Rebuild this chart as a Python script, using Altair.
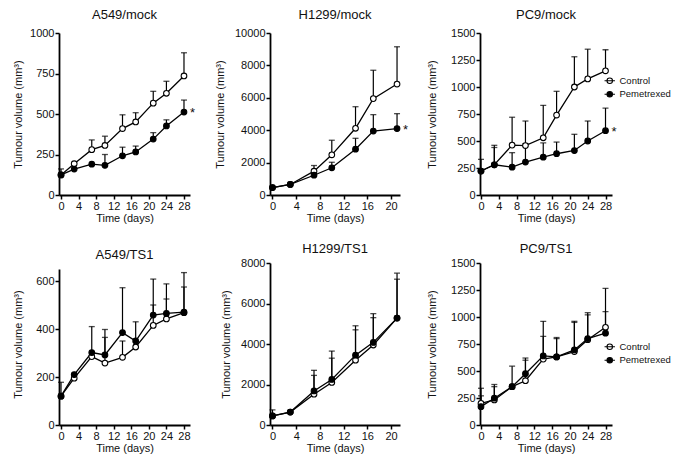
import altair as alt
import pandas as pd

FONT = "Liberation Sans"

days_28 = [0, 3, 7, 10, 14, 17, 21, 24, 28]
days_21 = [0, 3, 7, 10, 14, 17, 21]
ticks_28 = [0, 4, 8, 12, 16, 20, 24, 28]
ticks_20 = [0, 4, 8, 12, 16, 20]

series_names = ["Control", "Pemetrexed"]

# A549/mock
a549_mock_ctrl = [124, 193, 280, 306, 410, 451, 567, 628, 735]
a549_mock_ctrl_err = [161, None, 340, 363, 495, 508, 640, 702, 878]
a549_mock_pem = [124, 160, 190, 183, 242, 266, 345, 426, 512]
a549_mock_pem_err = [None, None, None, 250, 295, 302, 385, 464, 586]

# H1299/mock
h1299_mock_ctrl = [460, 650, 1470, 2480, 4120, 5950, 6850]
h1299_mock_ctrl_err = [None, None, 1820, 3380, 5450, 7700, 9150]
h1299_mock_pem = [460, 650, 1220, 1680, 2830, 3950, 4100]
h1299_mock_pem_err = [None, None, None, 2020, 3500, 4960, 5020]

# PC9/mock
pc9_mock_ctrl = [222, 280, 462, 458, 530, 740, 1000, 1075, 1150]
pc9_mock_ctrl_err = [330, 460, 720, 685, 830, 960, 1280, 1350, 1345]
pc9_mock_pem = [222, 280, 258, 305, 350, 382, 412, 500, 595]
pc9_mock_pem_err = [None, 440, 392, 475, 482, 490, 562, 685, 805]

# A549/TS1
a549_ts1_ctrl = [120, 195, 285, 258, 282, 325, 415, 442, 468]
a549_ts1_ctrl_err = [178, None, None, 365, 350, None, 500, 525, 575]
a549_ts1_pem = [120, 210, 302, 292, 385, 350, 458, 465, 470]
a549_ts1_pem_err = [None, None, 410, 398, 572, 430, 608, 588, 635]

# H1299/TS1
h1299_ts1_ctrl = [450, 640, 1520, 2100, 3200, 3950, 5280]
h1299_ts1_ctrl_err = [750, None, 2450, 3300, 4700, 5300, 7200]
h1299_ts1_pem = [450, 640, 1680, 2250, 3450, 4080, 5280]
h1299_ts1_pem_err = [None, None, 2700, 3650, 4900, 5500, 7500]

# PC9/TS1
pc9_ts1_ctrl = [200, 232, 355, 410, 610, 630, 680, 790, 905]
pc9_ts1_ctrl_err = [340, 375, None, 600, 820, 800, 950, 1020, 1050]
pc9_ts1_pem = [170, 248, 355, 475, 640, 630, 695, 800, 850]
pc9_ts1_pem_err = [270, 355, 545, 620, 960, 810, 960, 1040, 1265]

Y_TITLE = "Tumour volume (mm³)"
X_TITLE = "Time (days)"
H = 162

LEGEND_SYMBOL = "M-1,0A1,1,0,1,1,1,0A1,1,0,1,1,-1,0Z M-1.9,0L1.9,0"


def panel(title, days, ctrl, ctrl_err, pem, pem_err, xdom, width, xticks,
          ydom, yticks, yrange, title_offset, ytitle_x, legend_y=None,
          star=False):
    n = len(days)
    df = pd.DataFrame({
        "day": days + days,
        "series": [series_names[0]] * n + [series_names[1]] * n,
        "value": ctrl + pem,
        "err": ctrl_err + pem_err,
    })
    err_df = df.dropna(subset=["err"])
    xs = alt.Scale(domain=xdom, nice=False, zero=False)
    ys = alt.Scale(domain=ydom, nice=False, zero=False, range=yrange)
    xax = alt.Axis(values=xticks, title=X_TITLE, format="d")
    yax = alt.Axis(values=yticks, title=Y_TITLE, format="d",
                   titleX=ytitle_x, titleY=H / 2, titleAngle=270,
                   titleAlign="center", titleBaseline="middle")
    x = alt.X("day:Q", scale=xs, axis=xax)

    line = alt.Chart(df).mark_line(color="black", strokeWidth=1.3).encode(
        x=x, y=alt.Y("value:Q", scale=ys, axis=yax), detail="series:N")
    rule = alt.Chart(err_df).mark_rule(color="black", strokeWidth=1.2).encode(
        x=x, y=alt.Y("value:Q", scale=ys, axis=yax), y2="err:Q")
    cap = alt.Chart(err_df).mark_tick(color="black", orient="horizontal",
                                      size=6, thickness=1.3).encode(
        x=x, y=alt.Y("err:Q", scale=ys, axis=yax))
    if legend_y is not None:
        leg = alt.Legend(title=None, orient="none", legendX=125,
                         legendY=legend_y, padding=0, offset=0,
                         labelFont=FONT, labelFontSize=9.5, labelColor="#111",
                         symbolType=LEGEND_SYMBOL, symbolSize=30,
                         symbolStrokeColor="black", symbolStrokeWidth=1.1,
                         labelOffset=5, rowPadding=2.5)
    else:
        leg = None
    pts = alt.Chart(df).mark_point(shape="circle", filled=True, stroke="black",
                                   strokeWidth=1.1, size=32, opacity=1).encode(
        x=x, y=alt.Y("value:Q", scale=ys, axis=yax),
        fill=alt.Fill("series:N",
                      scale=alt.Scale(domain=series_names,
                                      range=["white", "black"]),
                      legend=leg))
    layers = [line, rule, cap, pts]
    if star:
        sdf = pd.DataFrame({"day": [days[-1]], "value": [pem[-1]],
                            "label": ["*"]})
        st = alt.Chart(sdf).mark_text(align="left", baseline="middle", dx=6,
                                      dy=1, fontSize=13, font=FONT,
                                      color="#111").encode(
            x=x, y=alt.Y("value:Q", scale=ys, axis=yax), text="label:N")
        layers.append(st)
    return alt.layer(*layers).properties(
        width=width, height=H,
        title=alt.TitleParams(title, offset=title_offset, fontSize=13,
                              font=FONT, fontWeight="normal", color="#111"))


p1 = panel("A549/mock", days_28, a549_mock_ctrl, a549_mock_ctrl_err,
           a549_mock_pem, a549_mock_pem_err, [-0.46, 29.37], 131, ticks_28,
           [0, 1000], [0, 250, 500, 750, 1000], [H, 0], 5, -41, star=True)
p2 = panel("H1299/mock", days_21, h1299_mock_ctrl, h1299_mock_ctrl_err,
           h1299_mock_pem, h1299_mock_pem_err, [-0.42, 21.5], 130, ticks_20,
           [0, 10000], [0, 2000, 4000, 6000, 8000, 10000], [H, 0], 5, -50,
           star=True)
p3 = panel("PC9/mock", days_28, pc9_mock_ctrl, pc9_mock_ctrl_err,
           pc9_mock_pem, pc9_mock_pem_err, [-0.22, 29.46], 132, ticks_28,
           [0, 1500], [0, 250, 500, 750, 1000, 1250, 1500], [H, 0], 5, -48,
           legend_y=43, star=True)
p4 = panel("A549/TS1", days_28, a549_ts1_ctrl, a549_ts1_ctrl_err,
           a549_ts1_pem, a549_ts1_pem_err, [-0.46, 29.37], 131, ticks_28,
           [0, 650], [0, 200, 400, 600], [H, 6], 1, -41)
p5 = panel("H1299/TS1", days_21, h1299_ts1_ctrl, h1299_ts1_ctrl_err,
           h1299_ts1_pem, h1299_ts1_pem_err, [-0.42, 21.5], 130, ticks_20,
           [0, 8000], [0, 2000, 4000, 6000, 8000], [H, 0], 1, -44)
p6 = panel("PC9/TS1", days_28, pc9_ts1_ctrl, pc9_ts1_ctrl_err,
           pc9_ts1_pem, pc9_ts1_pem_err, [-0.22, 29.46], 132, ticks_28,
           [0, 1500], [0, 250, 500, 750, 1000, 1250, 1500], [H, 0], 1, -48,
           legend_y=79)

chart = alt.concat(
    p1, p2, p3, p4, p5, p6, columns=3,
    spacing={"row": 68, "column": 80}, bounds="flush", align="each",
).resolve_scale(
    x="independent", y="independent", fill="independent").properties(
    padding={"left": 4, "top": 1, "right": 0, "bottom": 1},
    background="white",
).configure_view(stroke=None).configure_axis(
    grid=False, domainColor="black", domainWidth=1.8, tickColor="black",
    tickWidth=1.5, tickSize=4, labelFont=FONT, labelFontSize=11,
    labelColor="#111", labelPadding=1, titleFont=FONT, titleFontSize=11,
    titleFontWeight="normal", titleColor="#111", titlePadding=1,
    labelFlush=False,
).configure_axisX(labelAngle=0)

chart.save("out.html", embed_options={"renderer": "svg", "actions": False})
